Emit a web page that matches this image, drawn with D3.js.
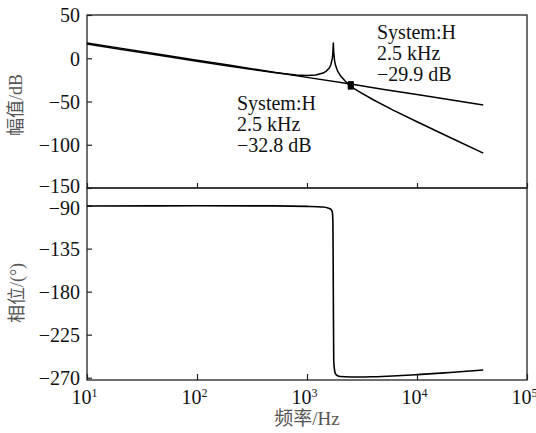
<!DOCTYPE html>
<html>
<head>
<meta charset="utf-8">
<script src="https://cdn.jsdelivr.net/npm/d3@7"></script>
<style>
  body { margin: 0; background: #fff; }
  svg { display: block; }
  text { font-family: "Liberation Serif", "Noto Sans CJK SC", serif; }
</style>
</head>
<body>
<svg class="bode" width="536" height="433"></svg>
<script>
const width = 536
const height = 433

// curve 1 (no resonance)
const freqs1 = [10, 20, 50, 100, 200, 500, 1000, 2500, 5000, 10000, 20000, 40000]
const mag1 = [17.7, 11.7, 3.8, -2.2, -8.2, -16.1, -22.1, -29.9, -36.0, -42.0, -48.0, -54.0]

// curve 2 (with resonance peak ~1.73 kHz)
const freqs2 = [10, 20, 50, 100, 200, 500, 800, 1000, 1200, 1400, 1500, 1600, 1650, 1700, 1720, 1735, 1750, 1780, 1820, 1900, 2000, 2200, 2500, 3000, 4000, 6000, 10000, 20000, 40000]
const mag2 = [16.5, 10.5, 2.6, -3.4, -9.3, -16.6, -19.3, -19.8, -19.3, -17.1, -14.8, -10.9, -7.2, 0.1, 7.3, 17.5, 7.1, -2.7, -8.5, -14.9, -19.6, -25.8, -32.8, -38.8, -48.0, -59.6, -73.4, -91.6, -109.7]

// phase of curve 2
const freqsPh = [10, 100, 500, 1000, 1400, 1550, 1650, 1700, 1720, 1735, 1750, 1780, 1820, 1900, 2000, 2500, 3000, 4000, 6000, 10000, 20000, 40000]
const phase = [-90.5, -90.2, -90.3, -90.8, -91.5, -92.5, -94, -97, -108, -180, -252, -262, -266, -268, -268.8, -269.3, -269.3, -269, -268.2, -266.8, -264.5, -262]

// data cursors
const markerFreq = [2500, 2500]
const markerMag = [-29.9, -32.8]
const cursorLines1 = ["System:H", "2.5 kHz", "\u221229.9 dB"]
const cursorLines2 = ["System:H", "2.5 kHz", "\u221232.8 dB"]

const xTicks = [10, 100, 1000, 10000, 100000]
const magTicks = [50, 0, -50, -100, -150]
const phaseTicks = [-90, -135, -180, -225, -270]

const plotL = 87, plotR = 527, plotT = 15, plotM = 188, plotB = 380

const svg = d3.select("svg.bode")
    .attr("viewBox", [0, 0, width, height])

const x = d3.scaleLog().domain([10, 100000]).range([plotL, plotR])
const yMag = d3.scaleLinear().domain([-150, 50]).range([plotM, plotT])
const yPh = d3.scaleLinear().domain([-272.4, -71.6]).range([plotB, plotM])

// axes (ticks point inward)
const magAxis = svg.append("g")
    .attr("transform", `translate(${plotL},0)`)
    .call(d3.axisLeft(yMag).tickValues(magTicks).tickSize(-5).tickPadding(7))
    .call(g => g.select(".domain").remove())

const phAxis = svg.append("g")
    .attr("transform", `translate(${plotL},0)`)
    .call(d3.axisLeft(yPh).tickValues(phaseTicks).tickSize(-5).tickPadding(7))
    .call(g => g.select(".domain").remove())

svg.append("g")
    .attr("transform", `translate(0,${plotM})`)
    .call(d3.axisBottom(x).tickValues(xTicks).tickSize(-5).tickFormat(""))
    .call(g => g.select(".domain").remove())

const xAxis = svg.append("g")
    .attr("transform", `translate(0,${plotB})`)
    .call(d3.axisBottom(x).tickValues(xTicks).tickSize(-6).tickFormat(""))
    .call(g => g.select(".domain").remove())

svg.selectAll(".tick line").attr("stroke", "#222").attr("stroke-width", 1.2)
svg.selectAll(".tick text")
    .attr("font-size", 20)
    .attr("font-family", "Liberation Serif")
    .attr("fill", "#111")
    .attr("dy", "0.34em")

// the -150 and -90 labels sit close together, nudge them apart a little
magAxis.selectAll(".tick text").filter(d => d === -150).attr("dy", "0.2em")
phAxis.selectAll(".tick text").filter(d => d === -90).attr("dy", "0.45em")

// x tick labels: 10 with superscript exponent
xAxis.selectAll(".tick")
    .append("text")
    .attr("y", 24)
    .attr("x", -3)
    .attr("text-anchor", "middle")
    .attr("font-size", 20)
    .attr("fill", "#111")
    .each(function (d) {
        const t = d3.select(this)
        t.append("tspan").text("10")
        t.append("tspan")
            .attr("font-size", 12)
            .attr("dy", -7)
            .text(Math.round(Math.log10(d)))
    })

// frames
svg.append("rect")
    .attr("x", plotL).attr("y", plotT)
    .attr("width", plotR - plotL).attr("height", plotM - plotT)
    .attr("fill", "none").attr("stroke", "#222").attr("stroke-width", 1.3)
svg.append("rect")
    .attr("x", plotL).attr("y", plotM)
    .attr("width", plotR - plotL).attr("height", plotB - plotM)
    .attr("fill", "none").attr("stroke", "#222").attr("stroke-width", 1.3)

const lineMag = d3.line()
    .x(d => x(d[0]))
    .y(d => yMag(d[1]))

const linePh = d3.line()
    .x(d => x(d[0]))
    .y(d => yPh(d[1]))

svg.append("path")
    .datum(d3.zip(freqs1, mag1))
    .attr("d", lineMag)
    .attr("fill", "none")
    .attr("stroke", "#000")
    .attr("stroke-width", 1.5)

svg.append("path")
    .datum(d3.zip(freqs2, mag2))
    .attr("d", lineMag)
    .attr("fill", "none")
    .attr("stroke", "#000")
    .attr("stroke-width", 1.5)
    .attr("stroke-linejoin", "round")

svg.append("path")
    .datum(d3.zip(freqsPh, phase))
    .attr("d", linePh.curve(d3.curveMonotoneX))
    .attr("fill", "none")
    .attr("stroke", "#000")
    .attr("stroke-width", 1.6)

svg.append("g")
    .selectAll("rect")
    .data(d3.zip(markerFreq, markerMag))
    .join("rect")
    .attr("x", d => x(d[0]) - 3)
    .attr("y", d => yMag(d[1]) - 3)
    .attr("width", 6)
    .attr("height", 6)
    .attr("fill", "#000")

// cursor labels
const cursor = (lines, x0, y0) => {
    svg.append("g")
        .selectAll("text")
        .data(lines)
        .join("text")
        .attr("x", x0)
        .attr("y", (d, i) => y0 + i * 21)
        .attr("font-size", 20)
        .attr("fill", "#111")
        .text(d => d)
}
cursor(cursorLines1, 377, 39)
cursor(cursorLines2, 237, 109.5)

// axis titles
svg.append("text")
    .attr("transform", "translate(22,105) rotate(-90)")
    .attr("text-anchor", "middle")
    .attr("font-size", 18)
    .attr("fill", "#555")
    .text("幅值/dB")

svg.append("text")
    .attr("transform", "translate(23,293) rotate(-90)")
    .attr("text-anchor", "middle")
    .attr("font-size", 18)
    .attr("fill", "#555")
    .text("相位/(°)")

svg.append("text")
    .attr("x", 307)
    .attr("y", 425)
    .attr("text-anchor", "middle")
    .attr("font-size", 19)
    .attr("fill", "#555")
    .text("频率/Hz")
</script>
</body>
</html>
